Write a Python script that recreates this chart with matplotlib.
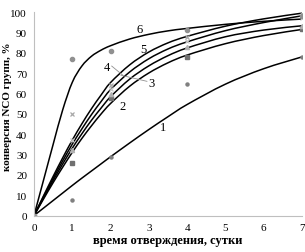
import matplotlib
matplotlib.use("Agg")
import matplotlib.pyplot as plt
from matplotlib.path import Path
from matplotlib.patches import PathPatch

# кривые (сглаженные)
t_curve = [0, 0.25, 0.5, 0.75, 1, 1.25, 1.5, 1.75, 2, 2.5, 3, 3.5, 4, 5, 6, 7]
c1 = [0, 3.7, 7.4, 11.1, 14.8, 18.4, 21.9, 25.4, 28.9, 35.7, 42.3, 48.6, 54.6, 64.6, 72.2, 78]
c2 = [0, 8.2, 16.2, 23.8, 31.1, 37.9, 44.1, 49.9, 55.1, 63.6, 70.1, 75.1, 78.9, 84.5, 88.5, 91.5]
c3 = [0, 8.75, 17.25, 25.4, 33.1, 40.2, 46.8, 52.8, 58.4, 67.1, 73.6, 78.6, 82.4, 87.9, 91.2, 93.3]
c4 = [0, 9.25, 18.25, 26.9, 35.1, 42.6, 49.6, 56, 61.9, 70.6, 77.1, 81.9, 85.4, 90.9, 94.9, 98.2]
c5 = [0, 9.75, 19.25, 28.4, 37.1, 45.1, 52.5, 59.2, 65.4, 74.1, 80.4, 84.9, 88.1, 93.1, 96.7, 99.5]
c6 = [0, 17.5, 35, 52, 65.5, 73.5, 78.3, 81.3, 83.5, 86.8, 89.1, 90.8, 92, 94, 95.5, 96.6]

# экспериментальные точки
t_pts = [0, 1, 2, 4, 7]
p1 = [0, 7.5, 29, 64.5, 78]
p2 = [0, 26, 57.6, 78, 91.6]
p3 = [0, 32, 60, 83, 93]
p4 = [0, 37, 62, 86, 97]
p5 = [0, 50, 64, 88, 99]
p6 = [0, 77, 81, 91, 98]

labels = ["1", "2", "3", "4", "5", "6"]
label_pos = [(3.37, 43.5), (2.32, 53.8), (3.08, 65), (1.91, 73), (2.85, 81.8), (2.77, 91.6)]

plt.rcParams['font.family'] = ['Liberation Serif', 'DejaVu Serif']


def smooth_line(ax, xs, ys, **kw):
    # сглаженная линия как в Excel: кубические Безье через точки
    n = len(xs)
    verts = [(xs[0], ys[0])]
    codes = [Path.MOVETO]
    for i in range(n - 1):
        i0 = max(i - 1, 0)
        i3 = min(i + 2, n - 1)
        c1x = xs[i] + (xs[i + 1] - xs[i0]) / 6
        c1y = ys[i] + (ys[i + 1] - ys[i0]) / 6
        c2x = xs[i + 1] - (xs[i3] - xs[i]) / 6
        c2y = ys[i + 1] - (ys[i3] - ys[i]) / 6
        verts += [(c1x, c1y), (c2x, c2y), (xs[i + 1], ys[i + 1])]
        codes += [Path.CURVE4] * 3
    ax.add_patch(PathPatch(Path(verts, codes), fill=False, **kw))


fig = plt.figure(figsize=(3.05, 2.53), dpi=100)
ax = fig.add_axes([0.1115, 0.144, 0.8785, 0.804])

for c in [c1, c2, c3, c4, c5, c6]:
    smooth_line(ax, t_curve, c, edgecolor='black', lw=1.1, capstyle='round')

ax.plot(t_pts, p1, 'o', color='#808080', ms=2.2, ls='None')
ax.plot(t_pts, p2, 's', color='#707070', ms=3, ls='None')
ax.plot(t_pts, p3, '^', color='#b0b0b0', ms=3, ls='None')
ax.plot(t_pts, p4, 'x', color='#c8c8c8', ms=3, mew=0.9, ls='None')
ax.plot(t_pts, p5, 'x', color='#a8a8a8', ms=3, mew=0.9, ls='None')
ax.plot(t_pts, p6, 'o', color='#909090', ms=3, ls='None')

for lab, (x, y) in zip(labels, label_pos):
    ax.text(x, y, lab, fontsize=9, ha='center', va='center')

# выноски для 3 и 4
ax.plot([2.03, 2.32], [73.5, 69], color='#909090', lw=0.6)
ax.plot([2.27, 2.95], [69, 66], color='#909090', lw=0.6)

ax.set_xlim(0, 7)
ax.set_ylim(0, 100)
ax.set_xticks(range(0, 8))
ax.set_yticks(range(0, 101, 10))
ax.tick_params(length=0, labelsize=8, pad=5)
for s in ['top', 'right']:
    ax.spines[s].set_visible(False)
for s in ['left', 'bottom']:
    ax.spines[s].set_color('#bfbfbf')
    ax.spines[s].set_linewidth(0.8)

ax.set_xlabel("время отверждения, сутки", fontsize=9, fontweight='bold', labelpad=2)
fig.text(7.5 / 305, 1 - 107 / 253, "конверсия NCO групп, %", fontsize=8, fontweight='bold',
         rotation=90, ha='center', va='center')

fig.savefig("out.png", dpi=100)
